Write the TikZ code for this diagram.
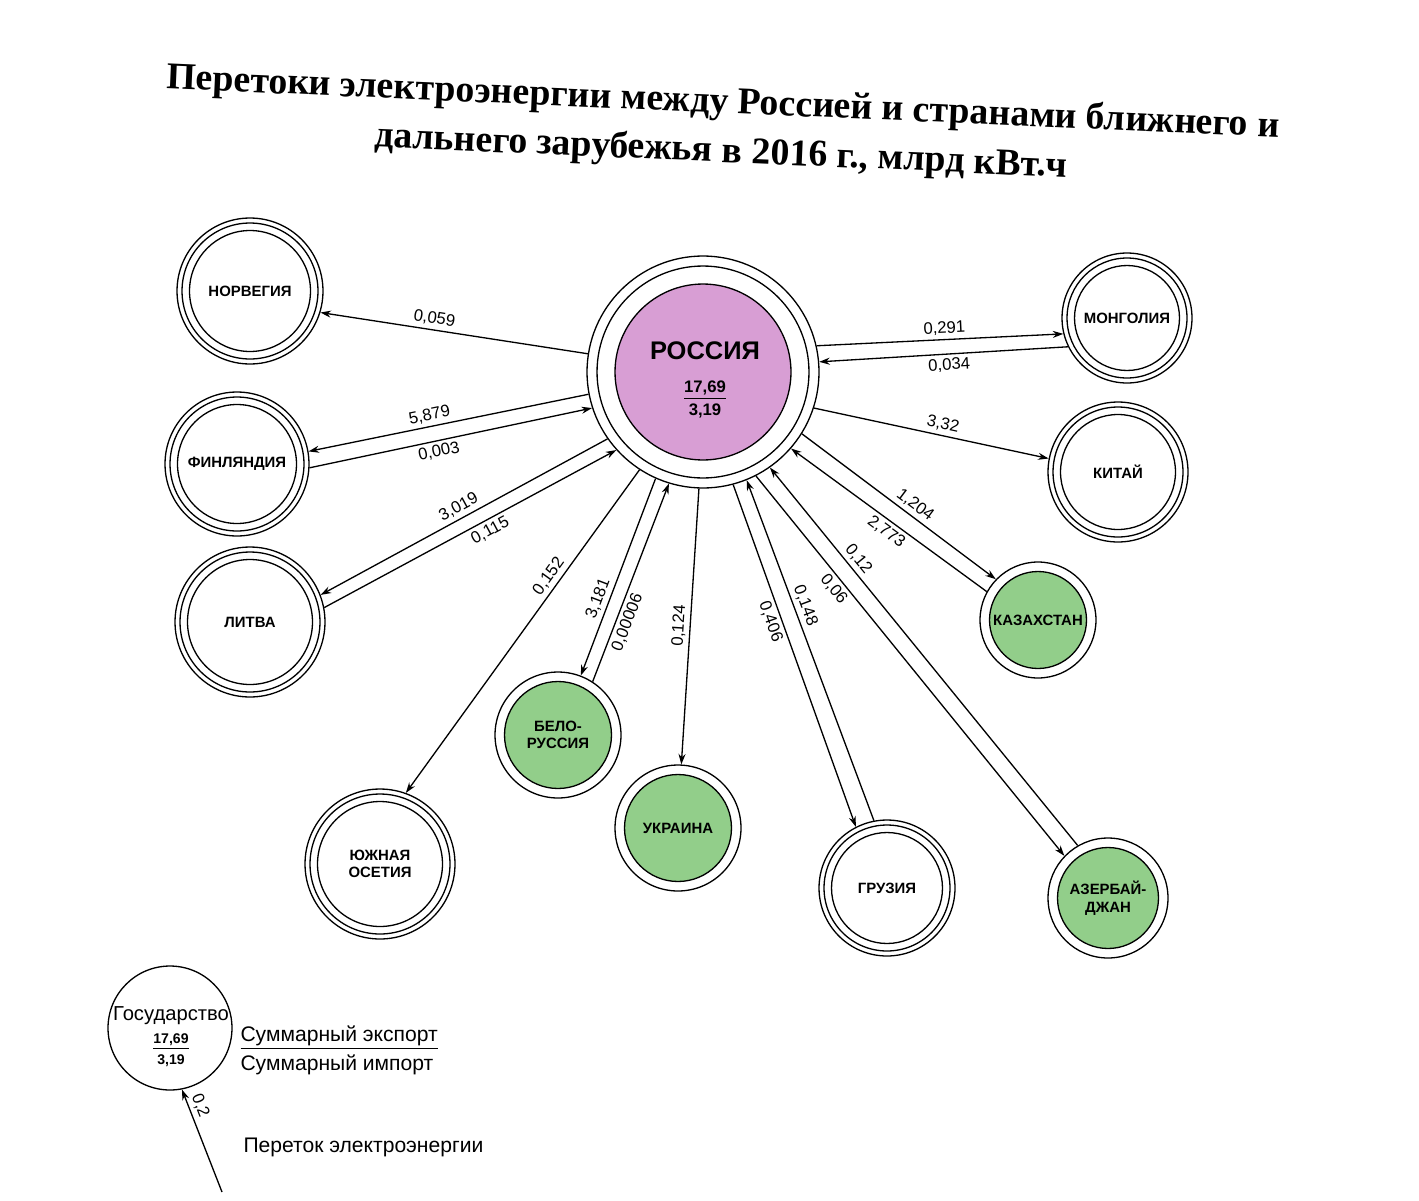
\documentclass[tikz,border=0pt]{standalone}
\usepackage{fontspec}
\setmainfont{Liberation Sans}
\newfontfamily\titlefont{Liberation Serif}
\usetikzlibrary{arrows.meta}
\definecolor{rusfill}{RGB}{216,158,212}
\definecolor{grnfill}{RGB}{146,206,138}
\tikzset{
  trio/.style={circle, draw, minimum size=#1, inner sep=0pt, align=center,
    font=\bfseries\fontsize{8.5}{10}\selectfont,
    path picture={
      \draw (path picture bounding box.center) circle[radius=#1/2-0.1cm];
      \draw (path picture bounding box.center) circle[radius=#1/2-0.25cm];}},
  duo/.style={circle, draw, minimum size=#1, inner sep=0pt, align=center,
    font=\bfseries\fontsize{8.5}{10}\selectfont,
    path picture={
      \draw[fill=grnfill] (path picture bounding box.center) circle[radius=#1/2-0.19cm];}},
  hub/.style={circle, draw, minimum size=4.64cm, inner sep=0pt,
    path picture={
      \draw (path picture bounding box.center) circle[radius=2.12cm];
      \draw[fill=rusfill] (path picture bounding box.center) circle[radius=1.76cm];}},
  flow/.style={font=\fontsize{9.5}{11}\selectfont, sloped, inner sep=2pt},
  legtext/.style={anchor=west, font=\fontsize{12}{14}\selectfont},
}
\begin{document}
\begin{tikzpicture}[x=0.02cm, y=-0.02cm, line width=0.75pt, >={Stealth[length=6pt,width=4pt]}]
\useasboundingbox (0,0) rectangle (1419,1200);

\node[font=\titlefont\bfseries\fontsize{21.5}{28}\selectfont, align=center, rotate=-2.5] (title) at (722,128)
  {Перетоки электроэнергии между Россией и странами ближнего и\\дальнего зарубежья в 2016 г., млрд кВт.ч};

\node[hub] (rus) at (703,372) {};
\node[align=center, inner sep=0pt] (rustxt) at (705,380) {{\bfseries\fontsize{14.5}{16}\selectfont РОССИЯ}\\[7pt]
  {\bfseries\fontsize{9.5}{11}\selectfont\underline{17,69}}\\[1pt]{\bfseries\fontsize{9.5}{11}\selectfont 3,19}};
\node[trio=2.92cm] (nor) at (250,291) {НОРВЕГИЯ};
\node[trio=2.88cm] (fin) at (237,464) {ФИНЛЯНДИЯ};
\node[trio=3.0cm] (lit) at (250,622) {ЛИТВА};
\node[trio=3.0cm] (oss) at (380,864) {ЮЖНАЯ\\ОСЕТИЯ};
\node[duo=2.52cm] (bel) at (558,735) {БЕЛО-\\РУССИЯ};
\node[duo=2.52cm] (ukr) at (678,828) {УКРАИНА};
\node[trio=2.72cm] (geo) at (887,888) {ГРУЗИЯ};
\node[duo=2.4cm] (aze) at (1108,898) {АЗЕРБАЙ-\\ДЖАН};
\node[duo=2.32cm] (kaz) at (1038,620) {КАЗАХСТАН};
\node[trio=2.8cm] (chi) at (1118,472) {КИТАЙ};
\node[trio=2.6cm] (mon) at (1127,318) {МОНГОЛИЯ};

\draw[->] (rus.171) to node[flow, above, pos=.58] {0,059} (nor.343);
\draw[->] (rus.191) to node[flow, above, pos=.56] {5,879} (fin.10);
\draw[->] (fin.357) to node[flow, below, pos=.45] {0,003} (rus.198);
\draw[->] (rus.215) to node[flow, above, pos=.5] {3,019} (lit.21);
\draw[->] (lit.11) to node[flow, below, pos=.55] {0,115} (rus.222);
\draw[->] (rus.237) to node[flow, above, pos=.35] {0,152} (oss.70);
\draw[->] (rus.246) to node[flow, above, pos=.63] {3,181} (bel.69);
\draw[->] (bel.57) to node[flow, below, pos=.32] {0,00006} (rus.253);
\draw[->] (rus.268) to node[flow, above, pos=.5] {0,124} (ukr.87);
\draw[->] (rus.285) to node[flow, below, pos=.39] {0,406} (geo.117);
\draw[->] (geo.101) to node[flow, above, pos=.62] {0,148} (rus.292);
\draw[->] (rus.297) to node[flow, below, pos=.28] {0,06} (aze.136);
\draw[->] (aze.120) to node[flow, above, pos=.74] {0,12} (rus.305);
\draw[->] (rus.328) to node[flow, above, pos=.55] {1,204} (kaz.136);
\draw[->] (kaz.151) to node[flow, below, pos=.48] {2,773} (rus.319);
\draw[->] (rus.342) to node[flow, above, pos=.54] {3,32} (chi.169);
\draw[->] (rus.13) to node[flow, above, pos=.52] {0,291} (mon.194);
\draw[->] (mon.206) to node[flow, below, pos=.48] {0,034} (rus.5);

\node[circle, draw, minimum size=2.48cm, inner sep=0pt] (leg) at (170,1028) {};
\node[align=center, inner sep=0pt] (legtxt) at (171,1037)
  {{\fontsize{11.5}{13}\selectfont Государство}\\[1pt]{\bfseries\fontsize{8}{10}\selectfont\underline{17,69}}\\{\bfseries\fontsize{8}{10}\selectfont 3,19}};
\node[legtext] (exp) at (234,1038) {\underline{Суммарный экспорт}};
\node[legtext] (imp) at (234,1065) {Суммарный импорт};
\coordinate (legtail) at (222,1192);
\draw[->] (legtail) to node[flow, above, pos=.8] {0,2} (leg.281);
\node[legtext] (flowtxt) at (237,1147) {Переток электроэнергии};
\end{tikzpicture}
\end{document}
